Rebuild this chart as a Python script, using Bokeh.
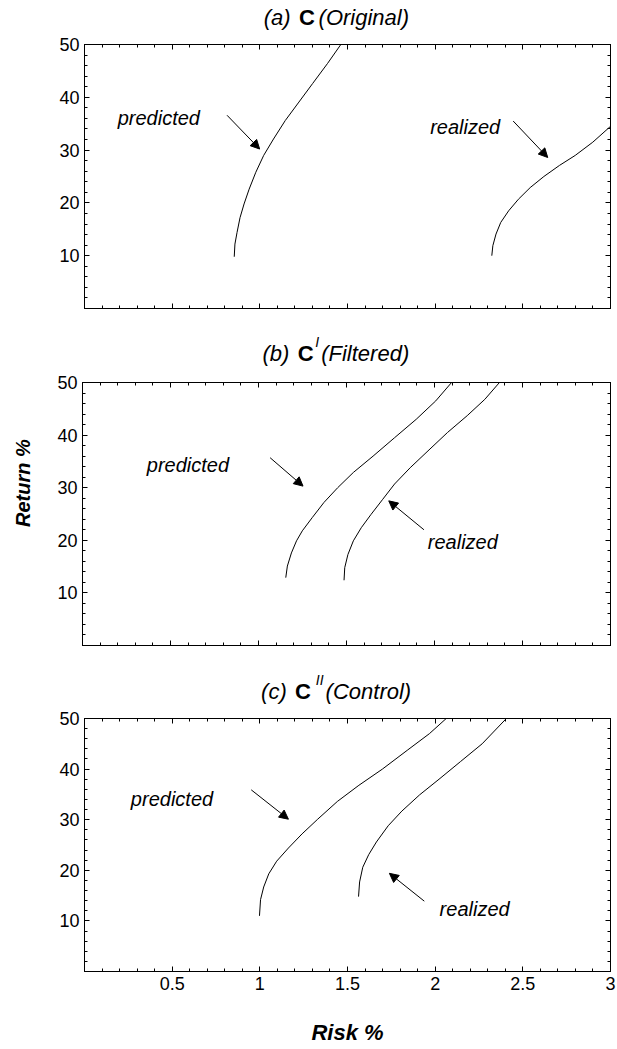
import math
from bokeh.plotting import figure
from bokeh.models import (Range1d, FixedTicker, LinearAxis, Label, Arrow,
                          NormalHead, CustomJSTickFormatter)
from bokeh.layouts import column, row
from bokeh.embed import file_html
from bokeh.resources import INLINE

# ---------------- data ----------------
x_ticks = [0.5, 1, 1.5, 2, 2.5, 3]
x_minor = [round(0.1 * i, 1) for i in range(0, 31)]
y_ticks = [10, 20, 30, 40, 50]
y_minor = list(range(0, 51, 2))

# (a) C (Original)
a_pred_risk = [0.854, 0.858, 0.870, 0.887, 0.910, 0.939, 0.977, 1.022, 1.078, 1.145, 1.223, 1.301, 1.386, 1.462]
a_pred_ret = [9.8, 12.2, 14.4, 17.2, 19.8, 22.6, 25.8, 29.0, 32.1, 35.6, 39.1, 42.6, 46.4, 50.0]
a_real_risk = [2.323, 2.329, 2.347, 2.374, 2.419, 2.475, 2.542, 2.620, 2.709, 2.799, 2.899, 3.000]
a_real_ret = [10.0, 11.9, 14.1, 16.3, 18.5, 20.7, 22.9, 25.0, 27.1, 29.0, 31.5, 34.5]

# (b) C' (Filtered)
b_pred_risk = [1.155, 1.164, 1.187, 1.216, 1.249, 1.305, 1.372, 1.450, 1.539, 1.651, 1.773, 1.896, 2.007, 2.097]
b_pred_ret = [12.9, 15.1, 17.6, 19.9, 21.8, 24.3, 27.2, 30.0, 32.9, 36.0, 39.5, 43.0, 46.5, 50.0]
b_real_risk = [1.486, 1.490, 1.508, 1.539, 1.584, 1.639, 1.706, 1.773, 1.862, 1.963, 2.074, 2.186, 2.286, 2.369]
b_real_ret = [12.4, 14.8, 17.3, 19.9, 22.4, 24.9, 27.8, 30.7, 33.8, 37.0, 40.5, 43.7, 46.8, 50.0]

# (c) C'' (Control)
c_pred_risk = [0.998, 1.004, 1.022, 1.051, 1.096, 1.163, 1.241, 1.330, 1.442, 1.565, 1.699, 1.844, 1.967, 2.063]
c_pred_ret = [11.0, 14.2, 16.7, 19.3, 21.8, 24.4, 27.2, 30.1, 33.6, 36.8, 40.0, 43.8, 47.0, 50.0]
c_real_risk = [1.563, 1.569, 1.587, 1.621, 1.665, 1.732, 1.810, 1.911, 2.022, 2.145, 2.268, 2.406]
c_real_ret = [14.8, 17.7, 20.6, 23.1, 25.6, 28.8, 31.7, 34.9, 38.0, 41.5, 45.0, 50.0]

FONT = "Liberation Sans"
TICK_SIZE = "18px"
ANN_SIZE = "20px"
TITLE_SIZE = "22px"
SUP_SIZE = "14px"
AXIS_LABEL_SIZE = "22px"
W = 617


def tick_axis(ticks, minor, tick_len, minor_len):
    """Axes without labels: only inward tick marks (major + minor)."""
    out = []
    for tk, ln in ((ticks, tick_len), (minor, minor_len)):
        ax = LinearAxis(ticker=FixedTicker(ticks=[], minor_ticks=tk))
        ax.axis_line_color = "black"
        ax.major_tick_out = 0
        ax.major_tick_in = 0
        ax.minor_tick_in = ln
        ax.minor_tick_out = 0
        ax.minor_tick_line_color = "black"
        ax.major_label_standoff = 0
        out.append(ax)
    return out


def label_axis(ticks, minor, fmt=None):
    ax = LinearAxis(ticker=FixedTicker(ticks=ticks, minor_ticks=minor))
    if fmt is not None:
        ax.formatter = fmt
    ax.axis_line_color = "black"
    ax.major_tick_line_color = "black"
    ax.minor_tick_line_color = "black"
    ax.major_tick_in = 5
    ax.major_tick_out = 0
    ax.minor_tick_in = 3
    ax.minor_tick_out = 0
    ax.major_label_text_font = FONT
    ax.major_label_text_color = "black"
    ax.major_label_text_font_size = TICK_SIZE
    ax.major_label_standoff = 5
    return ax


def make_panel(width, height, border_bottom, border_left, pred, real, texts,
               arrows, x_labels=False):
    p = figure(width=width, height=height, output_backend="svg",
               toolbar_location=None, title=None, x_range=Range1d(0, 3),
               y_range=Range1d(0, 50), x_axis_location=None,
               y_axis_location=None, min_border_top=12,
               min_border_bottom=border_bottom, min_border_left=border_left,
               min_border_right=7)
    p.grid.visible = False
    p.outline_line_color = "black"
    p.outline_line_width = 1

    if x_labels:
        fmt = CustomJSTickFormatter(code="return String(tick);")
        p.add_layout(label_axis(x_ticks, x_minor, fmt), "below")
    else:
        for ax in tick_axis(x_ticks, x_minor, 5, 3):
            p.add_layout(ax, "below")
    p.add_layout(label_axis(y_ticks, y_minor), "left")
    for ax in tick_axis(x_ticks, x_minor, 5, 3):
        p.add_layout(ax, "above")
    for ax in tick_axis(y_ticks, y_minor, 5, 3):
        p.add_layout(ax, "right")

    p.line(pred[0], pred[1], line_color="black", line_width=1)
    p.line(real[0], real[1], line_color="black", line_width=1)

    for (tx, ty, t) in texts:
        p.add_layout(Label(x=tx, y=ty, text=t, text_font=FONT,
                           text_font_style="italic", text_font_size=ANN_SIZE,
                           text_align="center", text_baseline="alphabetic",
                           text_color="black"))
    for (x0, y0, x1, y1) in arrows:
        p.add_layout(Arrow(x_start=x0, y_start=y0, x_end=x1, y_end=y1,
                           line_color="black", line_width=1,
                           end=NormalHead(size=9, fill_color="black",
                                          line_color="black", line_width=1)))
    return p


def make_title(height, border_left, parts):
    """Title strip whose frame lines up with the panel frame below it."""
    t = figure(width=W, height=height, output_backend="svg",
               toolbar_location=None, title=None, x_range=Range1d(0, 3),
               y_range=Range1d(0, height), x_axis_location=None,
               y_axis_location=None, min_border_left=border_left,
               min_border_right=7, min_border_top=0, min_border_bottom=0)
    t.grid.visible = False
    t.outline_line_color = None
    for (txt, style, size, x, y) in parts:
        t.add_layout(Label(x=x, y=y, text=txt, text_font=FONT,
                           text_font_style=style, text_font_size=size,
                           text_align="left", text_baseline="alphabetic",
                           text_color="black"))
    return t


t1 = make_title(32, 82, [("(a)", "italic", TITLE_SIZE, 1.022, 15),
                         ("C", "bold", TITLE_SIZE, 1.223, 15),
                         ("(Original)", "italic", TITLE_SIZE, 1.335, 15)])
p1 = make_panel(
    W, 286, 10, 82,
    (a_pred_risk, a_pred_ret), (a_real_risk, a_real_ret),
    [(0.424, 36.1, "predicted"), (2.171, 34.4, "realized")],
    [(0.813, 36.6, 0.999, 30.2), (2.445, 35.5, 2.642, 28.6)],
)

t2 = make_title(52, 82, [("(b)", "italic", TITLE_SIZE, 1.015, 17.5),
                         ("C", "bold", TITLE_SIZE, 1.216, 17.5),
                         ("I", "italic", SUP_SIZE, 1.316, 28.5),
                         ("(Filtered)", "italic", TITLE_SIZE, 1.350, 17.5)])
p2 = make_panel(
    W - 40, 285, 10, 42,
    (b_pred_risk, b_pred_ret), (b_real_risk, b_real_ret),
    [(0.599, 34.3, "predicted"), (2.161, 19.7, "realized")],
    [(1.066, 35.7, 1.253, 30.3), (1.940, 22.0, 1.740, 27.5)],
)
ylab = figure(width=40, height=285, output_backend="svg",
              toolbar_location=None, title=None, x_range=Range1d(0, 40),
              y_range=Range1d(0, 285), x_axis_location=None,
              y_axis_location=None, min_border=0)
ylab.grid.visible = False
ylab.outline_line_color = None
ylab.add_layout(Label(x=22, y=176, text="Return %", angle=math.pi / 2,
                      text_font=FONT, text_font_style="bold italic",
                      text_font_size="20px", text_align="center",
                      text_baseline="middle", text_color="black"))

t3 = make_title(51, 84, [("(c)", "italic", TITLE_SIZE, 1.007, 15.5),
                         ("C", "bold", TITLE_SIZE, 1.201, 15.5),
                         ("II", "italic", SUP_SIZE, 1.319, 26.5),
                         ("(Control)", "italic", TITLE_SIZE, 1.375, 15.5)])
p3 = make_panel(
    W, 341, 66, 84,
    (c_pred_risk, c_pred_ret), (c_real_risk, c_real_ret),
    [(0.499, 34.1, "predicted"), (2.225, 12.3, "realized")],
    [(0.951, 35.9, 1.163, 30.1), (1.938, 13.9, 1.739, 19.4)],
    x_labels=True,
)
xb = p3.below[0]
xb.axis_label = "Risk %"
xb.axis_label_text_font = FONT
xb.axis_label_text_font_style = "bold italic"
xb.axis_label_text_font_size = AXIS_LABEL_SIZE
xb.axis_label_text_color = "black"
xb.axis_label_standoff = 27

layout = column(t1, p1, t2, row(ylab, p2, spacing=0), t3, p3, spacing=0)
open("out.html", "w").write(file_html(layout, INLINE))
